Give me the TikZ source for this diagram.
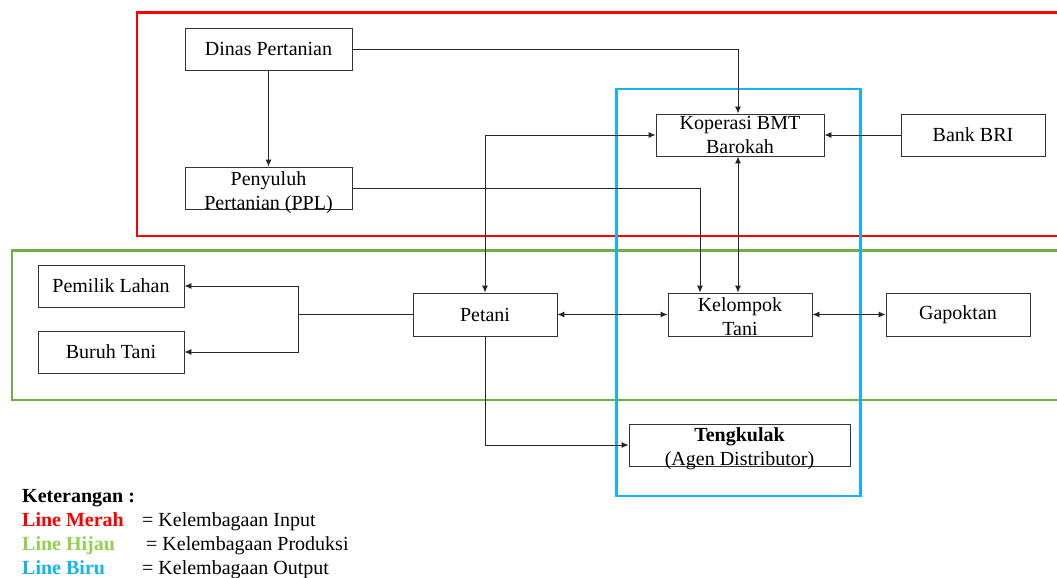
\documentclass[tikz,border=0pt]{standalone}
\usepackage{fontspec}
\setmainfont{Liberation Serif}
\usetikzlibrary{arrows.meta}
\definecolor{rmerah}{HTML}{FF0000}
\definecolor{rhijau}{HTML}{70AD47}
\definecolor{rhijaulg}{HTML}{92D050}
\definecolor{rbiru}{HTML}{14B4F0}
\begin{document}
\begin{tikzpicture}[x=1pt,y=-1pt,
  box/.style={draw=black!80, line width=0.9pt, inner sep=0pt, fill=none},
  txt/.style={inner sep=0pt, align=center, font=\fontsize{20}{24}\selectfont},
  lg/.style={inner sep=0pt, anchor=base west, font=\fontsize{20}{24}\selectfont},
  arr/.style={line width=0.9pt, draw=black!85, -{Latex[length=7pt,width=6pt]}},
  darr/.style={line width=0.9pt, draw=black!85, {Latex[length=7pt,width=6pt]}-{Latex[length=7pt,width=6pt]}},
  ln/.style={line width=0.9pt, draw=black!85},
  frame/.style={line width=2.6pt}]
\useasboundingbox (0,0) rectangle (1057,578);
% frames
\draw[frame, rmerah] (137,12.5) rectangle (1070,236);
\draw[frame, rhijau] (12,250.5) rectangle (1070,400);
\draw[frame, rbiru] (616.5,89) rectangle (860.5,496);
% nodes
\node[box, minimum width=167, minimum height=42, txt] (dinas) at (268.5,49) {Dinas Pertanian};
\node[box, minimum width=167, minimum height=42] (ppl) at (268.5,188) {};
\node[txt, anchor=north] (pplT) at (268.5,171) {Penyuluh\\Pertanian (PPL)};
\node[box, minimum width=168, minimum height=42] (kop) at (740,135) {};
\node[txt, anchor=north] (kopT) at (740,116.5) {Koperasi BMT\\Barokah};
\node[box, minimum width=144, minimum height=42, txt] (bri) at (973,135) {Bank BRI};
\node[box, minimum width=146, minimum height=42, txt] (pemilik) at (111,286) {Pemilik Lahan};
\node[box, minimum width=146, minimum height=42, txt] (buruh) at (111,352) {Buruh Tani};
\node[box, minimum width=144, minimum height=43, txt] (petani) at (485,314.5) {Petani};
\node[box, minimum width=144, minimum height=43] (kel) at (740,314.5) {};
\node[txt, anchor=north] (kelT) at (740,297) {Kelompok\\Tani};
\node[box, minimum width=144, minimum height=43, txt] (gap) at (958,314.5) {Gapoktan};
\node[box, minimum width=221, minimum height=42] (teng) at (739.5,445) {};
\node[txt, anchor=north] (tengT) at (739.5,427) {\textbf{Tengkulak}\\(Agen Distributor)};
% connectors
\coordinate (split) at (298,314.5);
\draw[arr] (dinas.east) -| ([xshift=-2pt]kop.north);
\draw[arr] (dinas.south) -- (ppl.north);
\draw[arr] (ppl.east) -| (kel.north -| 700,0);
\draw[darr] (petani.north) |- (kop.west);
\draw[arr] (bri.west) -- (kop.east);
\draw[darr] ([xshift=-2pt]kop.south) -- ([xshift=-2pt]kel.north);
\draw[ln] (petani.west) -- (split);
\draw[arr] (split) |- (pemilik.east);
\draw[arr] (split) |- (buruh.east);
\draw[darr] (petani.east) -- (kel.west);
\draw[darr] (kel.east) -- (gap.west);
\draw[arr] (petani.south) |- (teng.west);
% legend
\node[lg] (k0) at (22,502) {\textbf{Keterangan :}};
\node[lg, text=rmerah] (k1) at (22,526) {\textbf{Line Merah}};
\node[lg] (k1b) at (142,526) {= Kelembagaan Input};
\node[lg, text=rhijaulg] (k2) at (22,550) {\textbf{Line Hijau}};
\node[lg] (k2b) at (146,550) {= Kelembagaan Produksi};
\node[lg, text=rbiru] (k3) at (22,574) {\textbf{Line Biru}};
\node[lg] (k3b) at (142,574) {= Kelembagaan Output};
\end{tikzpicture}
\end{document}
